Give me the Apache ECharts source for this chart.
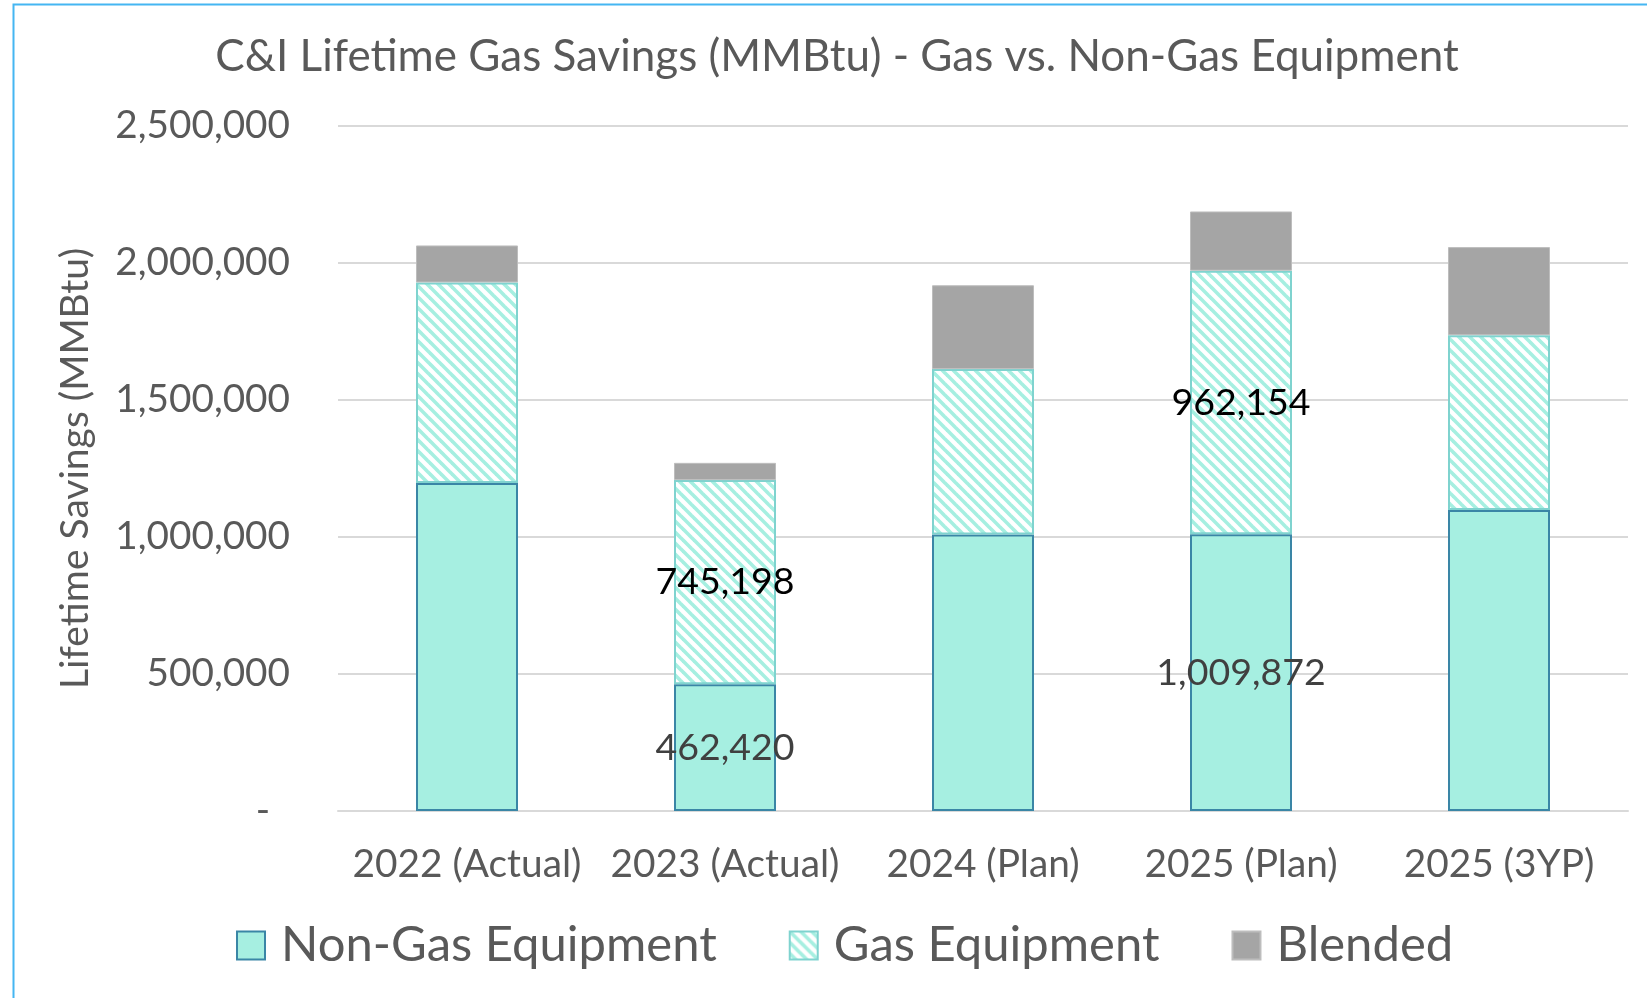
<!DOCTYPE html>
<html>
<head>
<meta charset="utf-8">
<script src="https://cdn.jsdelivr.net/npm/echarts@6/dist/echarts.min.js"></script>
<style>
  html, body { margin: 0; padding: 0; background: #fff; }
  #chart { width: 1647px; height: 998px; }
</style>
</head>
<body>
<div id="chart"></div>
<script>
  const categories = ['2022 (Actual)', '2023 (Actual)', '2024 (Plan)', '2025 (Plan)', '2025 (3YP)']
  const nonGas = [1197000, 462420, 1008700, 1009872, 1098600]
  const gas = [732000, 745198, 604000, 962154, 638000]
  const blended = [135000, 63000, 306000, 216000, 321500]
  const labelShown = [false, true, false, true, false]
  const yTicks = { min: 0, max: 2500000, interval: 500000 }

  const FONT = 'Lato'
  const TEXT = '#595959'

  // diagonal hatch for the gas equipment bars
  function hatch() {
    const p = 11
    const c = document.createElement('canvas')
    c.width = p
    c.height = p
    const ctx = c.getContext('2d')
    ctx.fillStyle = '#fff'
    ctx.fillRect(0, 0, p, p)
    ctx.strokeStyle = '#a6efe1'
    ctx.lineWidth = 3.6
    for (let k = -1; k <= 1; k++) {
      ctx.beginPath()
      ctx.moveTo(k * p - 2, -2)
      ctx.lineTo(k * p + p + 2, p + 2)
      ctx.stroke()
    }
    return c
  }

  const fmt = v => (v === 0 ? '-' : Math.round(v).toLocaleString('en-US'))

  const withLabels = (arr, color) =>
    arr.map((v, i) => ({
      value: v,
      label: { show: labelShown[i], color: color },
    }))

  const baseLabel = { position: 'inside', fontFamily: FONT, fontSize: 37.5, formatter: p => fmt(p.value) }

  const chart = echarts.init(document.getElementById('chart'))
  chart.setOption({
    animation: false,
    backgroundColor: '#fff',
    textStyle: { fontFamily: FONT },
    title: {
      text: 'C&I Lifetime Gas Savings (MMBtu) - Gas vs. Non-Gas Equipment',
      left: 832,
      textAlign: 'center',
      top: 30,
      textStyle: { color: TEXT, fontFamily: FONT, fontSize: 44, fontWeight: 'normal' },
    },
    graphic: [
      { type: 'rect', shape: { x: 13.5, y: 4.5, width: 2000, height: 2000 }, style: { fill: 'none', stroke: '#45b6f2', lineWidth: 2 }, silent: true },
    ],
    legend: {
      left: 231,
      top: 916,
      itemWidth: 28,
      itemHeight: 28,
      itemGap: 72,
      icon: 'rect',
      textStyle: { color: TEXT, fontFamily: FONT, fontSize: 49, lineHeight: 49, padding: [0, 0, 0, 11] },
      data: ['Non-Gas Equipment', 'Gas Equipment', 'Blended'],
    },
    grid: { left: 338, right: 19, top: 126, bottom: 187 },
    xAxis: {
      type: 'category',
      data: categories,
      axisLine: { lineStyle: { color: '#d9d9d9', width: 2 } },
      axisTick: { show: false },
      axisLabel: { color: TEXT, fontFamily: FONT, fontSize: 38.8, margin: 34, interval: 0 },
    },
    yAxis: {
      type: 'value',
      min: yTicks.min,
      max: yTicks.max,
      interval: yTicks.interval,
      name: 'Lifetime Savings (MMBtu)',
      nameLocation: 'middle',
      nameGap: 243,
      nameTextStyle: { color: TEXT, fontFamily: FONT, fontSize: 39 },
      axisLine: { show: false },
      axisTick: { show: false },
      axisLabel: {
        color: TEXT,
        fontFamily: FONT,
        fontSize: 38.7,
        margin: 48,
        formatter: v => (v === 0 ? '-  ' : fmt(v)),
      },
      splitLine: { lineStyle: { color: '#d9d9d9', width: 2 } },
    },
    series: [
      {
        name: 'Non-Gas Equipment',
        type: 'bar',
        stack: 'total',
        barWidth: 102,
        itemStyle: { color: '#a6efe1', borderColor: '#3a86a6', borderWidth: 2 },
        label: baseLabel,
        data: withLabels(nonGas, '#404040'),
      },
      {
        name: 'Gas Equipment',
        type: 'bar',
        stack: 'total',
        barWidth: 102,
        itemStyle: { color: { image: hatch(), repeat: 'repeat' }, borderColor: '#7fd3cf', borderWidth: 2 },
        label: baseLabel,
        data: withLabels(gas, '#000'),
      },
      {
        name: 'Blended',
        type: 'bar',
        stack: 'total',
        barWidth: 102,
        itemStyle: { color: '#a5a5a5', borderColor: '#bdbdbd', borderWidth: 1 },
        data: blended,
      },
    ],
  })
</script>
</body>
</html>
